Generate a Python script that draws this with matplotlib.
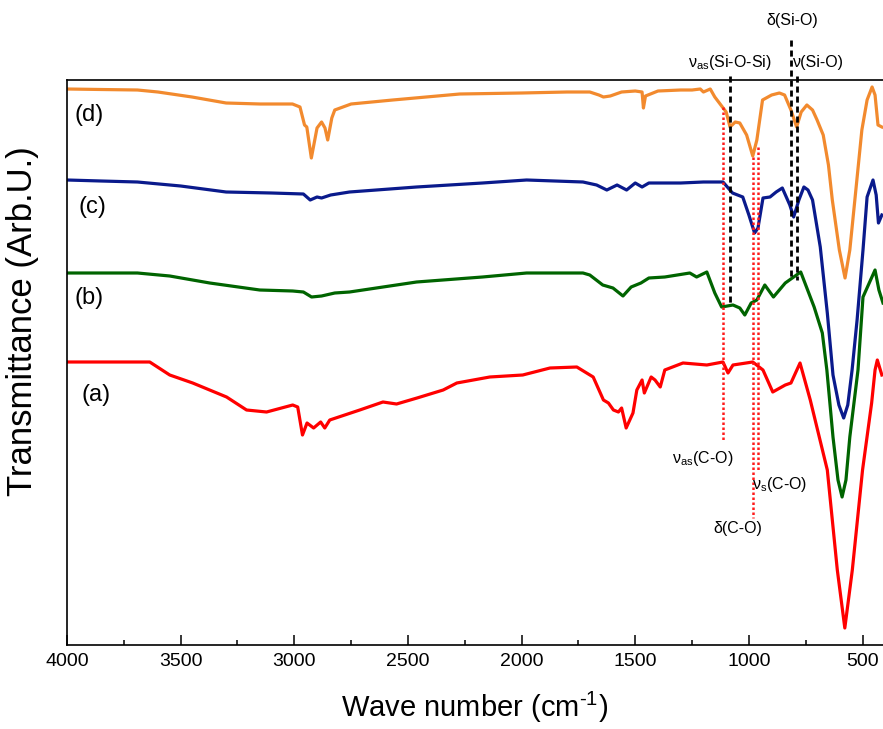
import matplotlib
matplotlib.use("Agg")
import matplotlib.pyplot as plt
from matplotlib.ticker import MultipleLocator

plt.rcParams["font.family"] = ["Liberation Sans", "DejaVu Sans"]
plt.rcParams["mathtext.fontset"] = "custom"
plt.rcParams["mathtext.rm"] = "Liberation Sans"
plt.rcParams["mathtext.it"] = "Liberation Sans:italic"

# spectrum (d) - orange
wn_d = [4000, 3850, 3690, 3600, 3450, 3300, 3150, 3008, 2975, 2955, 2945, 2925, 2900, 2880,
        2865, 2853, 2835, 2822, 2750, 2567, 2272, 2000, 1800, 1700, 1660, 1640, 1610, 1560,
        1500, 1470, 1464, 1455, 1400, 1300, 1250, 1214, 1200, 1170, 1150, 1120, 1100, 1083,
        1060, 1040, 1010, 983, 965, 940, 900, 866, 843, 815, 790, 770, 745, 720, 700, 673,
        650, 633, 602, 577, 556, 525, 503, 480, 458, 445, 432, 415]
tr_d = [556, 555.5, 555, 553, 548, 542, 541, 541, 538, 520, 518, 487, 517, 523,
        517, 505, 527, 535, 541, 545, 551, 552, 553, 553, 550, 548, 549, 553,
        554, 553, 537, 549, 554, 555, 555, 556, 553, 556, 548, 539, 533, 518,
        523, 522, 510, 489, 505, 545, 550, 552, 550, 535, 518, 533, 540, 535, 525, 510,
        480, 445, 395, 367, 395, 465, 515, 545, 558, 550, 520, 518]

# spectrum (c) - blue
wn_c = [4000, 3850, 3690, 3500, 3300, 3100, 2960, 2930, 2900, 2880, 2840, 2757, 2462, 2172,
        1978, 1730, 1670, 1625, 1580, 1538, 1500, 1470, 1440, 1300, 1200, 1114, 1072, 1027,
        1000, 975, 960, 938, 907, 880, 853, 820, 803, 780, 758, 740, 720, 686, 655, 630,
        604, 583, 565, 546, 524, 498, 480, 454, 440, 430, 415]
tr_c = [465, 464, 463, 459, 453, 452, 451, 445, 448, 447, 450, 453, 458, 462,
        465, 463, 460, 455, 460, 455, 462, 458, 462, 462, 463, 463, 452, 448,
        430, 412, 417, 447, 448, 453, 457, 440, 428, 445, 458, 455, 445, 398, 332, 270,
        240, 227, 240, 275, 325, 395, 448, 465, 450, 422, 430]

# spectrum (b) - green
wn_b = [4000, 3690, 3548, 3372, 3152, 3007, 2960, 2924, 2880, 2822, 2757, 2462, 2172, 1978,
        1730, 1700, 1643, 1598, 1554, 1518, 1475, 1440, 1370, 1260, 1230, 1185, 1150, 1120,
        1070, 1040, 1018, 990, 965, 930, 892, 840, 772, 713, 677, 657, 630, 608, 590, 573,
        556, 520, 498, 445, 428, 410]
tr_b = [372, 372, 369, 362, 355, 354, 353, 348, 349, 352, 353, 363, 368, 372,
        372, 370, 360, 357, 349, 358, 362, 367, 368, 372, 368, 373, 352, 338,
        340, 337, 330, 342, 345, 360, 348, 362, 373, 338, 312, 275, 208, 165, 148, 165,
        208, 275, 348, 375, 355, 342]

# spectrum (a) - red
wn_a = [4000, 3636, 3548, 3447, 3298, 3210, 3122, 3007, 2985, 2964, 2944, 2915, 2884, 2866,
        2844, 2712, 2610, 2550, 2460, 2345, 2285, 2140, 1995, 1875, 1757, 1685, 1640, 1618,
        1596, 1574, 1560, 1540, 1510, 1493, 1470, 1460, 1430, 1413, 1390, 1370, 1290, 1185,
        1114, 1092, 1070, 983, 938, 895, 840, 815, 775, 730, 655, 611, 578, 545, 500, 460,
        445, 435, 415]
tr_a = [283, 283, 270, 262, 248, 235, 233, 240, 238, 210, 222, 217, 223, 217,
        225, 235, 243, 241, 247, 255, 262, 268, 270, 277, 278, 268, 245, 242,
        235, 233, 237, 217, 232, 255, 265, 252, 268, 265, 258, 275, 282, 280,
        283, 272, 280, 283, 275, 253, 260, 262, 282, 245, 175, 75, 17, 75, 175, 242,
        275, 285, 270]

series = [(wn_a, tr_a, "#ff0000", "(a)", 3870, 250),
          (wn_b, tr_b, "#006400", "(b)", 3901, 347),
          (wn_c, tr_c, "#0a1a8c", "(c)", 3888, 438),
          (wn_d, tr_d, "#f28a2e", "(d)", 3901, 530)]

# band markers: (wavenumber, y_top, y_bottom)
black_marks = [(1083, 569, 340), (815, 605, 365), (788, 569, 365)]
red_marks = [(1114, 538, 203), (982, 488, 127), (960, 498, 175)]
band_labels = [(r"ν$_{\mathrm{as}}$(Si-O-Si)", 1083, 583, "center"),
               ("δ(Si-O)", 810, 625, "center"),
               ("ν(Si-O)", 808, 583, "left"),
               (r"ν$_{\mathrm{as}}$(C-O)", 1202, 187, "center"),
               ("δ(C-O)", 1047, 117, "center"),
               (r"ν$_{\mathrm{s}}$(C-O)", 863, 160, "center")]

fig = plt.figure(figsize=(8.83, 7.29), dpi=100)
ax = fig.add_axes([67 / 883, 1 - 645 / 729, 1 - 67 / 883, 565 / 729])

for wn, tr, c, lab, lx, ly in series:
    ax.plot(wn, tr, color=c, lw=2.3, solid_joinstyle="round")
    ax.text(lx, ly, lab, fontsize=17, ha="center", va="center")

for w, y0, y1 in black_marks:
    ax.plot([w, w], [y0, y1], color="black", ls=(0, (2.2, 1.4)), lw=2.0, clip_on=False)
for w, y0, y1 in red_marks:
    ax.plot([w, w], [y0, y1], color="#ff1a1a", ls=(0, (1, 1)), lw=1.8, clip_on=False)
for txt, x, y, ha in band_labels:
    ax.text(x, y, txt, fontsize=11.5, ha=ha, va="center")

ax.set_xlim(4000, 410)
ax.set_ylim(0, 565)
ax.xaxis.set_major_locator(MultipleLocator(500))
ax.xaxis.set_minor_locator(MultipleLocator(250))
ax.tick_params(axis="x", which="major", direction="in", length=7, width=1.1, labelsize=14, pad=6)
ax.tick_params(axis="x", which="minor", direction="in", length=3.5, width=1.1)
ax.set_yticks([])
ax.spines["right"].set_visible(False)
for s in ("left", "top", "bottom"):
    ax.spines[s].set_linewidth(1.2)

ax.set_xlabel(r"Wave number (cm$^{\text{-1}}$)", fontsize=21, va="center")
ax.xaxis.set_label_coords(0.5, -0.11)
ax.set_ylabel("Transmittance (Arb.U.)", fontsize=25, rotation=90,
              ha="center", va="center", rotation_mode="default")
ax.yaxis.set_label_coords(-44 / 816, 0.573)

fig.savefig("out.png", dpi=100)
